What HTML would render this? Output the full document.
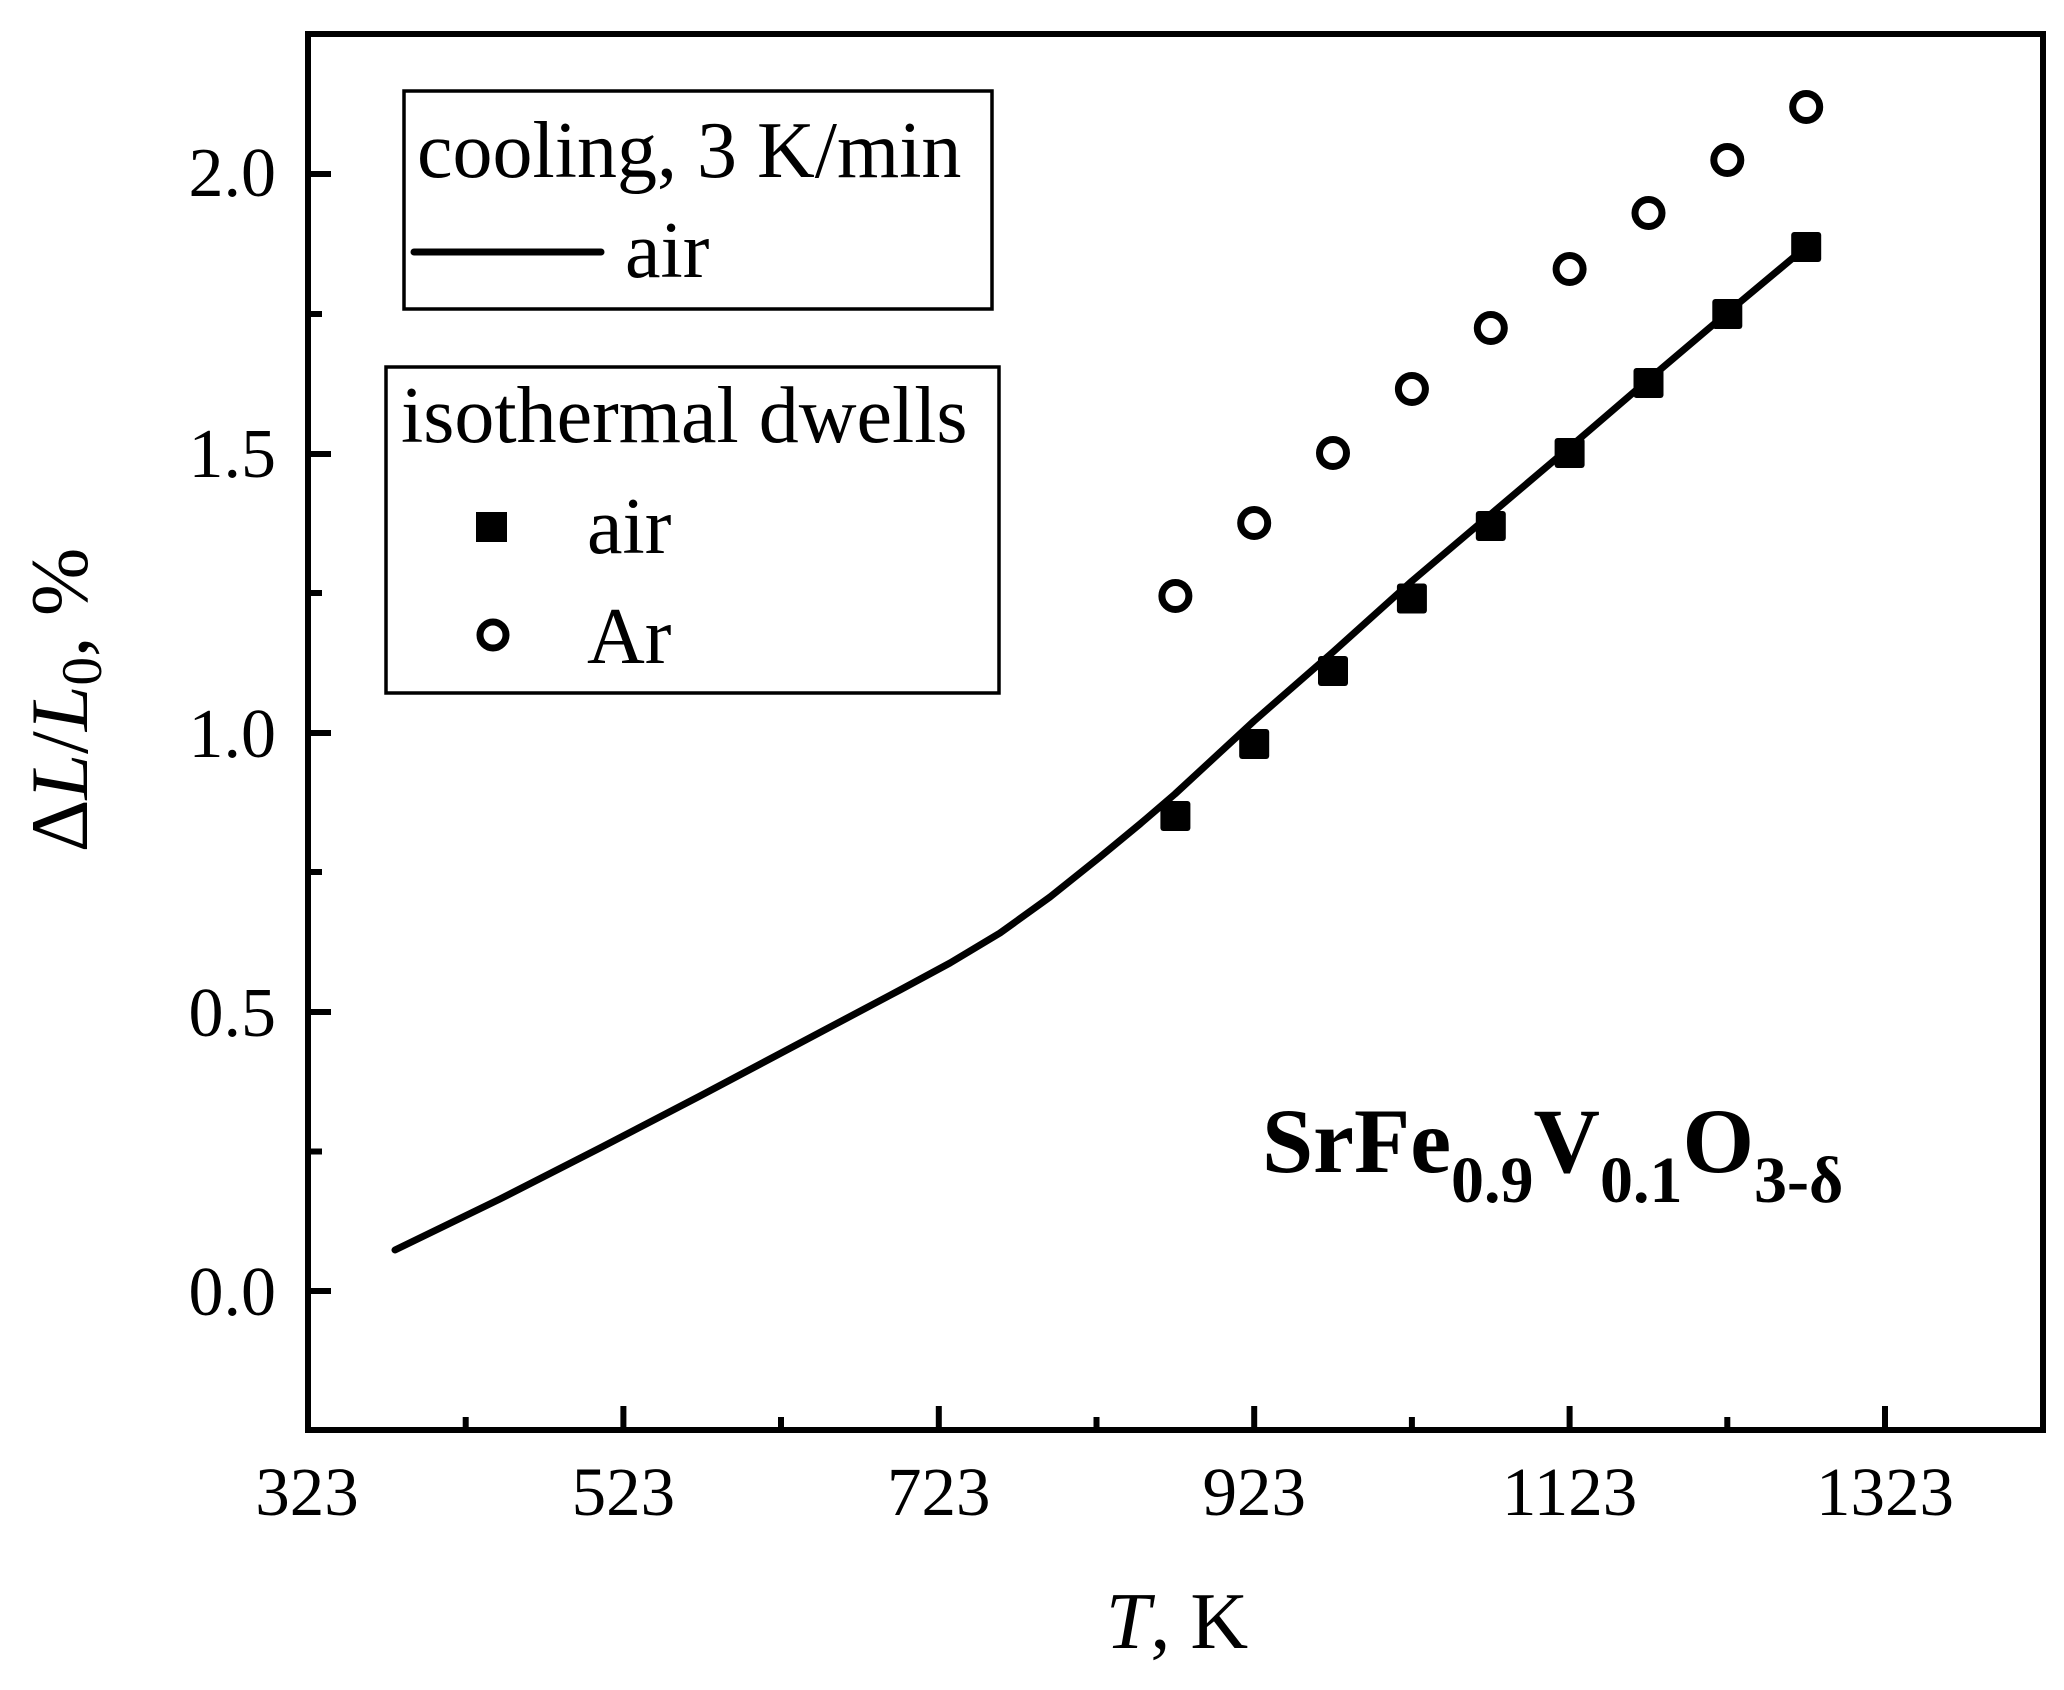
<!DOCTYPE html>
<html><head><meta charset="utf-8"><style>
html,body{margin:0;padding:0;background:#fff;}
svg{display:block;}
text{font-family:"Liberation Serif",serif;fill:#000;}
</style></head><body>
<svg width="2064" height="1690" viewBox="0 0 2064 1690" xmlns="http://www.w3.org/2000/svg">
<rect x="308" y="34" width="1735" height="1396" fill="none" stroke="#000" stroke-width="6"/>
<g stroke="#000" stroke-width="6">
<line x1="623.4" y1="1430" x2="623.4" y2="1406"/>
<line x1="938.8" y1="1430" x2="938.8" y2="1406"/>
<line x1="1254.2" y1="1430" x2="1254.2" y2="1406"/>
<line x1="1569.6" y1="1430" x2="1569.6" y2="1406"/>
<line x1="1885" y1="1430" x2="1885" y2="1406"/>
<line x1="465.7" y1="1430" x2="465.7" y2="1417"/>
<line x1="781" y1="1430" x2="781" y2="1417"/>
<line x1="1096.5" y1="1430" x2="1096.5" y2="1417"/>
<line x1="1411.9" y1="1430" x2="1411.9" y2="1417"/>
<line x1="1727.3" y1="1430" x2="1727.3" y2="1417"/>
<line x1="308" y1="1291" x2="331" y2="1291"/>
<line x1="308" y1="1012" x2="331" y2="1012"/>
<line x1="308" y1="733" x2="331" y2="733"/>
<line x1="308" y1="454" x2="331" y2="454"/>
<line x1="308" y1="174" x2="331" y2="174"/>
<line x1="308" y1="1151.5" x2="322" y2="1151.5"/>
<line x1="308" y1="872" x2="322" y2="872"/>
<line x1="308" y1="593" x2="322" y2="593"/>
<line x1="308" y1="314" x2="322" y2="314"/>
</g>
<g font-size="69" text-anchor="middle">
<text x="307" y="1515">323</text>
<text x="623.4" y="1515">523</text>
<text x="938.8" y="1515">723</text>
<text x="1254.2" y="1515">923</text>
<text x="1569.6" y="1515">1123</text>
<text x="1885" y="1515">1323</text>
</g>
<g font-size="70" text-anchor="end">
<text x="276" y="1315">0.0</text>
<text x="276" y="1036">0.5</text>
<text x="276" y="757">1.0</text>
<text x="276" y="477">1.5</text>
<text x="276" y="196">2.0</text>
</g>
<text x="1177" y="1648" font-size="80" text-anchor="middle"><tspan font-style="italic">T</tspan>, K</text>
<text transform="translate(87,700) rotate(-90)" font-size="82" text-anchor="middle">Δ<tspan font-style="italic">L</tspan>/<tspan font-style="italic">L</tspan><tspan font-size="57" dy="14">0</tspan><tspan dy="-14">, %</tspan></text>
<polyline fill="none" stroke="#000" stroke-width="7" stroke-linecap="round" stroke-linejoin="round"
points="395,1250 500,1199 600,1148 700,1096 800,1043 900,990 950,963 1000,933 1050,897 1100,857 1140,824 1175,794 1254,721 1333,652 1412,581 1491,514 1570,447 1648,380 1727,313 1806,247"/>
<g fill="#000">
<rect x="1160.4" y="801" width="30" height="30" rx="3"/>
<rect x="1239.2" y="729" width="30" height="30" rx="3"/>
<rect x="1318" y="656" width="30" height="30" rx="3"/>
<rect x="1396.9" y="583.5" width="30" height="30" rx="3"/>
<rect x="1475.8" y="511" width="30" height="30" rx="3"/>
<rect x="1554.6" y="438" width="30" height="30" rx="3"/>
<rect x="1633.5" y="368" width="30" height="30" rx="3"/>
<rect x="1712.3" y="299" width="30" height="30" rx="3"/>
<rect x="1791.2" y="232" width="30" height="30" rx="3"/>
</g>
<g fill="none" stroke="#000" stroke-width="7">
<circle cx="1175.4" cy="596" r="13.5"/>
<circle cx="1254.2" cy="523" r="13.5"/>
<circle cx="1333" cy="453" r="13.5"/>
<circle cx="1411.9" cy="389" r="13.5"/>
<circle cx="1490.8" cy="328" r="13.5"/>
<circle cx="1569.6" cy="269" r="13.5"/>
<circle cx="1648.5" cy="213" r="13.5"/>
<circle cx="1727.3" cy="160" r="13.5"/>
<circle cx="1806.2" cy="107" r="13.5"/>
</g>
<rect x="404" y="91" width="588" height="218" fill="#fff" stroke="#000" stroke-width="3.5"/>
<text x="417" y="177" font-size="80">cooling, 3 K/min</text>
<line x1="414" y1="252" x2="601" y2="252" stroke="#000" stroke-width="7" stroke-linecap="round"/>
<text x="625" y="277" font-size="80">air</text>
<rect x="386" y="367" width="613" height="326" fill="#fff" stroke="#000" stroke-width="3.5"/>
<text x="401" y="442" font-size="80">isothermal dwells</text>
<rect x="476" y="512" width="31" height="30" fill="#000"/>
<text x="587" y="553" font-size="80">air</text>
<circle cx="493" cy="635" r="13" fill="none" stroke="#000" stroke-width="7"/>
<text x="587" y="663" font-size="80">Ar</text>
<text x="1262" y="1172" font-size="92" font-weight="bold">SrFe<tspan font-size="66" dy="30">0.9</tspan><tspan dy="-30">V</tspan><tspan font-size="66" dy="30">0.1</tspan><tspan dy="-30">O</tspan><tspan font-size="66" dy="30">3-δ</tspan></text>
</svg>
</body></html>
